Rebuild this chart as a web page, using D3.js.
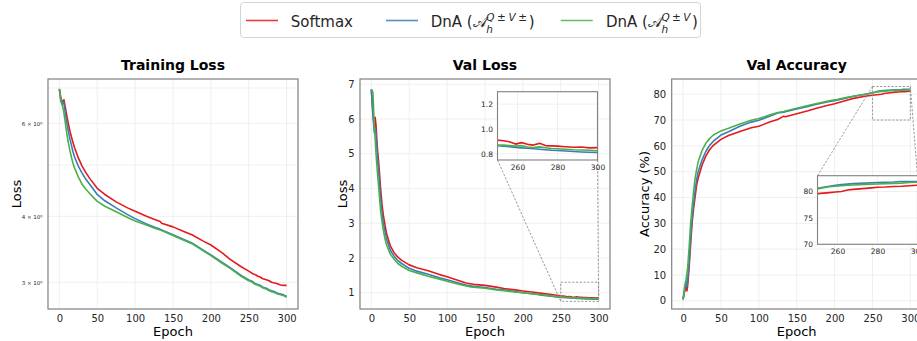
<!DOCTYPE html>
<html>
<head>
<meta charset="utf-8">
<script src="https://cdn.jsdelivr.net/npm/d3@7"></script>
<style>
	body { margin: 0; background: #fff; }
	svg { display: block; font-family: "DejaVu Sans", sans-serif; }
</style>
</head>
<body>
<div id="chart"></div>
<script>
const EPOCHS = [0, 2, 4, 5, 6, 8, 10, 12, 14, 16, 18, 20, 25, 30, 35, 40, 50, 60, 75, 90, 100, 115, 125, 133, 135,
	150, 165, 175, 190, 200, 215, 225, 240, 250, 253, 256, 259, 262, 265, 268, 271, 274, 277, 280, 284, 288, 292, 296, 300]

const TRAIN_SOFTMAX = [6.97, 6.70, 6.52, 6.62, 6.65, 6.42, 6.18, 5.98, 5.80, 5.65, 5.52, 5.40, 5.16, 4.98, 4.84, 4.72,
	4.52, 4.40, 4.26, 4.15, 4.09, 4.00, 3.95, 3.91, 3.88, 3.82, 3.74, 3.69, 3.59, 3.53, 3.41, 3.32, 3.21, 3.15,
	3.13, 3.11, 3.10, 3.08, 3.07, 3.05, 3.04, 3.03, 3.02, 3.00, 2.99, 2.98, 2.965, 2.96, 2.96]
const TRAIN_DNA_PM = [6.97, 6.62, 6.55, 6.60, 6.55, 6.25, 6.00, 5.78, 5.60, 5.45, 5.30, 5.18, 4.98, 4.83, 4.70, 4.60,
	4.40, 4.28, 4.15, 4.03, 3.96, 3.87, 3.82, 3.78, 3.77, 3.69, 3.61, 3.56, 3.45, 3.38, 3.27, 3.20, 3.09, 3.03,
	3.02, 3.00, 2.98, 2.97, 2.96, 2.94, 2.93, 2.92, 2.90, 2.89, 2.88, 2.86, 2.85, 2.84, 2.82]
const TRAIN_DNA = [6.97, 6.60, 6.48, 6.40, 6.28, 6.00, 5.72, 5.50, 5.32, 5.17, 5.04, 4.94, 4.75, 4.60, 4.50, 4.42,
	4.27, 4.18, 4.08, 3.98, 3.92, 3.85, 3.80, 3.77, 3.76, 3.68, 3.60, 3.55, 3.44, 3.37, 3.26, 3.19, 3.08, 3.02,
	3.01, 2.99, 2.97, 2.96, 2.95, 2.93, 2.92, 2.91, 2.89, 2.88, 2.87, 2.85, 2.84, 2.83, 2.81]

const VAL_LOSS_SOFTMAX = [6.85, 6.20, 5.75, 6.05, 5.85, 5.15, 4.65, 4.05, 3.55, 3.20, 2.95, 2.70, 2.35, 2.15, 2.02, 1.93,
	1.80, 1.72, 1.63, 1.52, 1.46, 1.35, 1.28, 1.25, 1.24, 1.21, 1.16, 1.12, 1.08, 1.05, 1.01, 0.98, 0.94, 0.91,
	0.905, 0.897, 0.878, 0.89, 0.876, 0.87, 0.884, 0.866, 0.864, 0.862, 0.857, 0.853, 0.855, 0.848, 0.85]
const VAL_LOSS_DNA_PM = [6.85, 6.10, 5.60, 5.72, 5.60, 4.90, 4.35, 3.75, 3.30, 2.98, 2.75, 2.55, 2.22, 2.05, 1.92, 1.84,
	1.70, 1.62, 1.53, 1.43, 1.37, 1.28, 1.22, 1.19, 1.18, 1.15, 1.10, 1.08, 1.03, 1.00, 0.96, 0.93, 0.89, 0.865,
	0.862, 0.858, 0.852, 0.848, 0.845, 0.84, 0.836, 0.832, 0.828, 0.826, 0.822, 0.818, 0.815, 0.812, 0.81]
const VAL_LOSS_DNA = [6.85, 6.78, 5.75, 5.43, 5.05, 4.45, 3.95, 3.40, 3.05, 2.78, 2.55, 2.38, 2.11, 1.96, 1.84, 1.76,
	1.64, 1.57, 1.47, 1.39, 1.33, 1.24, 1.19, 1.16, 1.16, 1.125, 1.08, 1.06, 1.02, 1.00, 0.96, 0.94, 0.90, 0.873,
	0.87, 0.866, 0.862, 0.866, 0.855, 0.85, 0.856, 0.848, 0.842, 0.84, 0.836, 0.832, 0.83, 0.828, 0.825]

const VAL_ACC_SOFTMAX = [0.5, 3.5, 6.0, 3.8, 5.5, 12.9, 22.0, 30.5, 36.0, 40.5, 45.0, 47.5, 52.5, 56.0, 58.5, 60.2,
	62.5, 64.0, 65.6, 67.0, 67.6, 69.3, 70.2, 71.5, 71.3, 72.4, 73.6, 74.5, 75.6, 76.3, 77.6, 78.4, 79.2, 79.6,
	79.7, 79.8, 79.9, 80.0, 80.3, 80.4, 80.5, 80.6, 80.7, 80.8, 80.85, 80.95, 81.0, 81.1, 81.2]
const VAL_ACC_DNA_PM = [0.5, 4.0, 7.5, 5.5, 7.5, 15.0, 24.5, 32.0, 38.0, 43.0, 47.0, 50.0, 54.5, 57.8, 60.2, 61.8,
	64.2, 65.5, 67.6, 69.2, 69.9, 71.6, 72.7, 73.0, 73.2, 74.3, 75.3, 76.0, 77.0, 77.5, 78.5, 79.2, 80.0, 80.6,
	80.8, 81.0, 81.2, 81.3, 81.4, 81.5, 81.55, 81.6, 81.65, 81.7, 81.75, 81.8, 81.9, 81.9, 81.9]
const VAL_ACC_DNA = [0.5, 5.5, 8.4, 10.5, 12.5, 20.6, 30.0, 36.5, 42.6, 47.7, 51.0, 53.8, 58.2, 61.0, 62.8, 64.2,
	65.8, 66.8, 68.5, 69.9, 70.6, 72.0, 72.9, 73.3, 73.5, 74.6, 75.6, 76.3, 77.3, 77.8, 78.7, 79.2, 79.9, 80.5,
	80.7, 80.9, 81.0, 81.1, 81.2, 81.25, 81.3, 81.35, 81.4, 81.44, 81.5, 81.55, 81.6, 81.7, 81.75]

const X_TICKS = [0, 50, 100, 150, 200, 250, 300]
const TRAIN_GRID = [3, 4, 5, 6, 7]
const TRAIN_TICKS = [3, 4, 6]
const VAL_LOSS_TICKS = [1, 2, 3, 4, 5, 6, 7]
const VAL_ACC_TICKS = [0, 10, 20, 30, 40, 50, 60, 70, 80]
const INSET_X_TICKS = [260, 280, 300]
const LOSS_INSET_Y_TICKS = [0.8, 1.0, 1.2]
const ACC_INSET_Y_TICKS = [70, 75, 80]

const COLORS = ['#e41a1c', '#377eb8', '#4daf4a']

const W = 917
const H = 341
const TOP = 79
const BOTTOM = 309
const PANEL_W = 250
const GRID = '#ebebeb'
const SPINE = '#808080'
const INK = '#262626'

const svg = d3.select('#chart').append('svg').attr('width', W).attr('height', H)

function series(values) {
	return d3.zip(EPOCHS, values)
}

function drawLines(g, x, y, data, clipId) {
	const line = d3.line().x((d) => x(d[0])).y((d) => y(d[1]))
	g.append('g')
		.attr('clip-path', `url(#${clipId})`)
		.selectAll('path')
		.data(data)
		.join('path')
		.attr('fill', 'none')
		.attr('stroke', (_, i) => COLORS[i])
		.attr('stroke-width', 1.6)
		.attr('stroke-linejoin', 'round')
		.attr('d', (d) => line(series(d)))
}

function addClip(id, x, y, w, h) {
	svg.append('clipPath').attr('id', id).append('rect').attr('x', x).attr('y', y).attr('width', w).attr('height', h)
}

function drawPanel(p) {
	const g = svg.append('g')
	const x = d3.scaleLinear().domain([-15, 315]).range([p.left, p.left + PANEL_W])
	const y = p.y.range([BOTTOM, TOP])

	// grid
	g.append('g')
		.selectAll('line')
		.data(X_TICKS)
		.join('line')
		.attr('x1', (d) => x(d)).attr('x2', (d) => x(d))
		.attr('y1', TOP).attr('y2', BOTTOM)
		.attr('stroke', GRID).attr('stroke-width', 0.8)
	g.append('g')
		.selectAll('line')
		.data(p.grid)
		.join('line')
		.attr('x1', p.left).attr('x2', p.left + PANEL_W)
		.attr('y1', (d) => y(d)).attr('y2', (d) => y(d))
		.attr('stroke', GRID).attr('stroke-width', 0.8)

	addClip(`clip-${p.id}`, p.left, TOP, PANEL_W, BOTTOM - TOP)
	drawLines(g, x, y, p.data, `clip-${p.id}`)

	g.append('rect')
		.attr('x', p.left).attr('y', TOP)
		.attr('width', PANEL_W).attr('height', BOTTOM - TOP)
		.attr('fill', 'none').attr('stroke', SPINE).attr('stroke-width', 1.2)

	// axes
	const xAxis = g.append('g')
		.attr('transform', `translate(0,${BOTTOM})`)
		.call(d3.axisBottom(x).tickValues(X_TICKS).tickSize(0).tickPadding(6))
	const yAxis = g.append('g')
		.attr('transform', `translate(${p.left},0)`)
		.call(d3.axisLeft(y).tickValues(p.ticks).tickFormat(p.fmt).tickSize(0).tickPadding(5.5))
	xAxis.select('.domain').remove()
	yAxis.select('.domain').remove()
	xAxis.selectAll('text').attr('fill', INK).style('font-size', '10px').style('font-family', 'DejaVu Sans')
	yAxis.selectAll('text').attr('fill', INK).style('font-size', `${p.tickFont}px`).style('font-family', 'DejaVu Sans')

	g.append('text')
		.attr('x', p.left + PANEL_W / 2).attr('y', 70)
		.attr('text-anchor', 'middle')
		.attr('font-weight', 'bold').attr('font-size', 14)
		.attr('fill', '#000')
		.text(p.title)

	g.append('text')
		.attr('x', p.left + PANEL_W / 2).attr('y', 336)
		.attr('text-anchor', 'middle')
		.attr('font-size', 13).attr('fill', '#000')
		.text('Epoch')

	g.append('text')
		.attr('transform', `translate(${p.labelX},${(TOP + BOTTOM) / 2}) rotate(-90)`)
		.attr('text-anchor', 'middle')
		.attr('font-size', 13).attr('fill', '#000')
		.text(p.yLabel)

	if (p.inset) drawInset(g, p, x, y)
}

function drawInset(g, p, mx, my) {
	const s = p.inset
	const ix = d3.scaleLinear().domain([250, 300]).range([s.x0, s.x0 + s.w])
	const iy = d3.scaleLinear().domain(s.yDomain).range([s.y0 + s.h, s.y0])

	// indicator box on main axes
	const rx0 = mx(250), rx1 = mx(300), ry0 = my(s.yDomain[1]), ry1 = my(s.yDomain[0])
	const dashed = (sel) => sel.attr('stroke', '#8c8c8c').attr('stroke-width', 0.9).attr('stroke-dasharray', '2.2,1.6').attr('fill', 'none')
	g.append('rect').attr('x', rx0).attr('y', ry0).attr('width', rx1 - rx0).attr('height', ry1 - ry0).call(dashed)
	s.corners.forEach(([ex, ev]) => {
		g.append('line')
			.attr('x1', ix(ex)).attr('y1', iy(ev))
			.attr('x2', mx(ex)).attr('y2', my(ev))
			.call(dashed)
	})

	const ig = g.append('g')
	ig.append('rect').attr('x', s.x0).attr('y', s.y0).attr('width', s.w).attr('height', s.h).attr('fill', '#fff')
	ig.append('g')
		.selectAll('line')
		.data(INSET_X_TICKS)
		.join('line')
		.attr('x1', (d) => ix(d)).attr('x2', (d) => ix(d))
		.attr('y1', s.y0).attr('y2', s.y0 + s.h)
		.attr('stroke', GRID).attr('stroke-width', 0.8)
	ig.append('g')
		.selectAll('line')
		.data(s.yTicks)
		.join('line')
		.attr('x1', s.x0).attr('x2', s.x0 + s.w)
		.attr('y1', (d) => iy(d)).attr('y2', (d) => iy(d))
		.attr('stroke', GRID).attr('stroke-width', 0.8)

	addClip(`clip-inset-${p.id}`, s.x0, s.y0, s.w, s.h)
	drawLines(ig, ix, iy, p.data, `clip-inset-${p.id}`)

	ig.append('rect')
		.attr('x', s.x0).attr('y', s.y0).attr('width', s.w).attr('height', s.h)
		.attr('fill', 'none').attr('stroke', SPINE).attr('stroke-width', 1.1)

	const xa = ig.append('g')
		.attr('transform', `translate(0,${s.y0 + s.h})`)
		.call(d3.axisBottom(ix).tickValues(INSET_X_TICKS).tickSize(0).tickPadding(4.5))
	const ya = ig.append('g')
		.attr('transform', `translate(${s.x0},0)`)
		.call(d3.axisLeft(iy).tickValues(s.yTicks).tickFormat(s.fmt).tickSize(0).tickPadding(4.5))
	xa.select('.domain').remove()
	ya.select('.domain').remove()
	ig.selectAll('.tick text').attr('fill', INK).style('font-size', '7.5px').style('font-family', 'DejaVu Sans')
}

const panels = [
	{
		id: 'train', title: 'Training Loss', yLabel: 'Loss', left: 48, labelX: 21,
		y: d3.scaleLog().domain([2.67, 7.28]), grid: TRAIN_GRID, ticks: TRAIN_TICKS,
		fmt: (d) => `${d} × 10⁰`, tickFont: 5.5,
		data: [TRAIN_SOFTMAX, TRAIN_DNA_PM, TRAIN_DNA]
	},
	{
		id: 'vloss', title: 'Val Loss', yLabel: 'Loss', left: 360, labelX: 346.5,
		y: d3.scaleLinear().domain([0.53, 7.15]), grid: VAL_LOSS_TICKS, ticks: VAL_LOSS_TICKS,
		fmt: d3.format('d'), tickFont: 10,
		data: [VAL_LOSS_SOFTMAX, VAL_LOSS_DNA_PM, VAL_LOSS_DNA],
		inset: {
			x0: 497.5, y0: 91.7, w: 100, h: 68.3, yDomain: [0.75, 1.3], yTicks: LOSS_INSET_Y_TICKS,
			fmt: d3.format('.1f'), corners: [[250, 0.75], [300, 0.75]]
		}
	},
	{
		id: 'vacc', title: 'Val Accuracy', yLabel: 'Accuracy (%)', left: 671.7, labelX: 649,
		y: d3.scaleLinear().domain([-3.2, 85.9]), grid: VAL_ACC_TICKS, ticks: VAL_ACC_TICKS,
		fmt: d3.format('d'), tickFont: 10,
		data: [VAL_ACC_SOFTMAX, VAL_ACC_DNA_PM, VAL_ACC_DNA],
		inset: {
			x0: 817.5, y0: 175.7, w: 100, h: 68.6, yDomain: [70, 83], yTicks: ACC_INSET_Y_TICKS,
			fmt: d3.format('d'), corners: [[250, 83], [300, 83]]
		}
	}
]

panels.forEach(drawPanel)

// legend
const legend = svg.append('g')
legend.append('rect')
	.attr('x', 240.5).attr('y', 2.5).attr('width', 460).attr('height', 35).attr('rx', 3)
	.attr('fill', '#fff').attr('stroke', '#d4d4d4').attr('stroke-width', 1)

const LEGEND_ITEMS = [
	{ lineX: 246, textX: 290.7, sup: null, supLen: 0 },
	{ lineX: 386, textX: 430.7, sup: 'Q±V±', supLen: 41 },
	{ lineX: 560.7, textX: 606, sup: 'Q±V', supLen: 29 }
]

LEGEND_ITEMS.forEach((item, i) => {
	legend.append('line')
		.attr('x1', item.lineX).attr('x2', item.lineX + 32)
		.attr('y1', 20.5).attr('y2', 20.5)
		.attr('stroke', COLORS[i]).attr('stroke-width', 1.6).attr('opacity', 0.85)

	if (!item.sup) {
		legend.append('text').attr('x', item.textX).attr('y', 27).attr('font-size', 15).attr('fill', INK).text('Softmax')
		return
	}
	let cx = item.textX
	const put = (str, size, y, style) => {
		const t = legend.append('text').attr('x', cx).attr('y', y).attr('font-size', size).attr('fill', INK)
		if (style) t.attr('font-style', style)
		t.text(str)
		return t
	}
	let t = put('DnA (', 15, 27)
	cx += t.node().getComputedTextLength() + 0.5
	t = put('𝒜', 15, 27)
	cx += t.node().getComputedTextLength() - 1
	put('h', 10.5, 32.5, 'italic')
	t = put(item.sup, 10.5, 20.5, 'italic').attr('textLength', item.supLen).attr('lengthAdjust', 'spacing')
	cx += item.supLen + 1.5
	put(')', 15, 27)
})
</script>
</body>
</html>
